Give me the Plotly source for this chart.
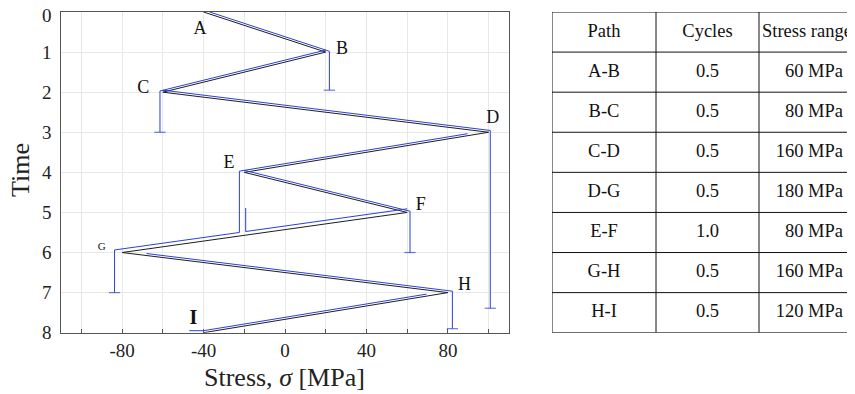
import plotly.graph_objects as go

# ---------------- data ----------------
stress = [-40, 20, -60, 100, -20, 60, -80, 80, -40]          # MPa, turning points
time_pts = [0, 1, 2, 3, 4, 5, 6, 7, 8]
point_labels = ["A", "B", "C", "D", "E", "F", "G", "H", "<b>I</b>"]
label_x = [-41.7, 28, -69.6, 102, -27.5, 66.7, -90, 88.2, -45]
label_t = [0.43, 0.93, 1.91, 2.66, 3.78, 4.82, 5.86, 6.83, 7.65]
label_size = [18, 18, 18, 18, 18, 18, 11, 18, 20]

# rain-flow paths (blue): (stress list, time list, capped end)
flow_A = ([-37, 21.8, 21.8], [0, 0.98, 1.95], True)
flow_B = ([20, -61.4, -61.4], [0.95, 1.97, 3.0], True)
flow_C = ([-60, 100.8, 100.8], [1.95, 2.955, 7.39], True)
flow_D = ([89.7, -22.4, -22.4, -83.7, -83.7], [3.036, 3.97, 5.50, 5.936, 7.0], True)
flow_E = ([-20, 61.4, 61.4], [3.95, 4.97, 6.0], True)
flow_F = ([60, -19.3, -19.3], [4.91, 5.476, 4.89], False)
flow_G = ([-68, 82.2, 82.2], [6.025, 6.964, 7.9], True)
flow_H = ([69.5, -40, -47], [7.0375, 7.95, 7.95], False)
flows = [flow_A, flow_B, flow_C, flow_D, flow_E, flow_F, flow_G, flow_H]

x_tickvals = list(range(-100, 101, 20))
x_ticktext = ["" if v % 40 else str(v) for v in x_tickvals]
y_tickvals = list(range(0, 9))

# table
headers = ["Path", "Cycles", "Stress range"]
paths = ["A-B", "B-C", "C-D", "D-G", "E-F", "G-H", "H-I"]
cycles = ["0.5", "0.5", "0.5", "0.5", "1.0", "0.5", "0.5"]
ranges = [60, 80, 160, 180, 80, 160, 120]
col_edges = [0, 104, 207]          # table units (px-like) within its own axis
table_width = 303
row_edges = list(range(0, 9))

BLUE = "#2b3fd9"
BLACK = "#1e1e1e"
FONT = "Liberation Serif"

fig = go.Figure()

# black load path
fig.add_trace(go.Scatter(x=stress, y=time_pts, mode="lines",
                         line=dict(color=BLACK, width=1), hoverinfo="skip"))

# blue rain-flow paths
for fx, ft, cap in flows:
    sizes = [0] * (len(fx) - 1) + [8 if cap else 0]
    fig.add_trace(go.Scatter(x=fx, y=ft, mode="lines+markers",
                             line=dict(color=BLUE, width=1),
                             marker=dict(symbol="line-ew", size=sizes,
                                         line=dict(color=BLUE, width=1.2)),
                             hoverinfo="skip"))

# point labels
fig.add_trace(go.Scatter(x=label_x, y=label_t, mode="text", text=point_labels,
                         textfont=dict(family=FONT, size=label_size, color="#111"),
                         textposition="middle center", hoverinfo="skip",
                         cliponaxis=False))

# ---- table (second, hidden axis pair) ----
row_mid = [(row_edges[i] + row_edges[i + 1]) / 2 for i in range(len(row_edges) - 1)]
col_mid = [(col_edges[0] + col_edges[1]) / 2, (col_edges[1] + col_edges[2]) / 2,
           (col_edges[2] + table_width) / 2]
TFS = 18.5
fig.add_trace(go.Scatter(x=col_mid, y=[row_mid[0]] * 3, mode="text", text=headers,
                         textfont=dict(family=FONT, size=TFS, color="#111"),
                         xaxis="x2", yaxis="y2", hoverinfo="skip", cliponaxis=False))
fig.add_trace(go.Scatter(x=[col_mid[0]] * len(paths), y=row_mid[1:], mode="text",
                         text=paths, textfont=dict(family=FONT, size=TFS, color="#111"),
                         xaxis="x2", yaxis="y2", hoverinfo="skip", cliponaxis=False))
fig.add_trace(go.Scatter(x=[col_mid[1]] * len(cycles), y=row_mid[1:], mode="text",
                         text=cycles, textfont=dict(family=FONT, size=TFS, color="#111"),
                         xaxis="x2", yaxis="y2", hoverinfo="skip", cliponaxis=False))
fig.add_trace(go.Scatter(x=[table_width - 12] * len(ranges), y=row_mid[1:], mode="text",
                         text=[f"{r} MPa" for r in ranges], textposition="middle left",
                         textfont=dict(family=FONT, size=TFS, color="#111"),
                         xaxis="x2", yaxis="y2", hoverinfo="skip", cliponaxis=False))

shapes = []
for r in row_edges:
    shapes.append(dict(type="line", xref="x2", yref="y2", x0=col_edges[0], x1=table_width,
                       y0=r, y1=r, line=dict(color="#111", width=1)))
for c in col_edges:
    shapes.append(dict(type="line", xref="x2", yref="y2", x0=c, x1=c,
                       y0=row_edges[0], y1=row_edges[-1], line=dict(color="#111", width=1)))

# the page body adds an 8 px margin, so the figure is laid out 8 px up/left
W, H = 847, 386
OFF = 8
ydom = [1 - (332.7 - OFF) / H, 1 - (12 - OFF) / H]

annotations = [
    dict(text="Time", x=(21 - OFF) / W, y=1 - (170 - OFF) / H, xref="paper",
         yref="paper", textangle=-90, showarrow=False, xanchor="center", yanchor="middle",
         font=dict(family=FONT, size=26, color="#222")),
    dict(text="Stress, <i>σ</i> [MPa]", x=(284 - OFF) / W, y=1 - (377 - OFF) / H,
         xref="paper", yref="paper", showarrow=False, xanchor="center", yanchor="middle",
         font=dict(family=FONT, size=26, color="#222")),
]
# y tick labels (first one nudged down so it stays inside the page)
for t in y_tickvals:
    annotations.append(dict(text=str(t), x=(54 - OFF) / W, y=t, xref="paper", yref="y",
                            xanchor="right", yanchor="middle", showarrow=False,
                            yshift=-3 if t == y_tickvals[0] else 0,
                            font=dict(family=FONT, size=19, color="#222")))

fig.update_layout(
    width=W, height=H, margin=dict(l=0, r=0, t=0, b=0, autoexpand=False),
    paper_bgcolor="white", plot_bgcolor="white", showlegend=False,
    font=dict(family=FONT, color="#222"),
    shapes=shapes, annotations=annotations,
    xaxis=dict(domain=[(61 - OFF) / W, (509 - OFF) / W], range=[-110, 110],
               tickvals=x_tickvals, ticktext=x_ticktext, ticks="inside", ticklen=4,
               tickcolor="#555", showgrid=True, gridcolor="#e8e8e8", gridwidth=1,
               zeroline=False, showline=True, linecolor="#555", linewidth=1.2,
               mirror=True, automargin=False,
               tickfont=dict(family=FONT, size=19, color="#222")),
    yaxis=dict(domain=ydom, range=[8, 0], tickvals=y_tickvals, ticks="",
               showticklabels=False,
               showgrid=True, gridcolor="#e8e8e8", gridwidth=1, zeroline=False,
               showline=True, linecolor="#555", linewidth=1.2, mirror=True,
               automargin=False),
    xaxis2=dict(domain=[(552 - OFF) / W, 1.0], range=[0, table_width], visible=False,
                fixedrange=True, automargin=False),
    yaxis2=dict(domain=ydom, range=[8, 0], visible=False, anchor="x2", fixedrange=True,
                automargin=False),
)

fig.write_html("out.html")
